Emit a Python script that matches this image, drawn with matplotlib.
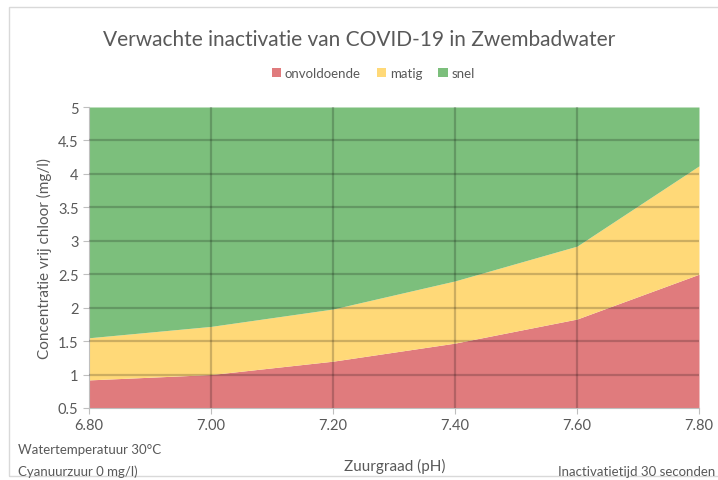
import numpy as np
import matplotlib.pyplot as plt
from matplotlib.patches import Rectangle

# pH values and boundaries between zones (mg/l free chlorine)
ph = [6.8, 7.0, 7.2, 7.4, 7.6, 7.8]
onvoldoende_top = [0.92, 1.00, 1.20, 1.47, 1.83, 2.50]
matig_top = [1.55, 1.72, 1.98, 2.40, 2.92, 4.12]
y_max = 5.0

labels = ['onvoldoende', 'matig', 'snel']
colors = ['#E07B7D', '#FFD978', '#7CBF7C']
xticks = [6.8, 7.0, 7.2, 7.4, 7.6, 7.8]
yticks = [0.5, 1, 1.5, 2, 2.5, 3, 3.5, 4, 4.5, 5]

plt.rcParams['font.family'] = ['Lato', 'DejaVu Sans']
txt = '#595959'

fig = plt.figure(figsize=(7.18, 4.81), dpi=100)
ax = fig.add_axes([89/718, 1 - 409/481, 610/718, 301/481])

base = np.full(len(ph), 0.5)
ax.fill_between(ph, base, onvoldoende_top, color=colors[0], lw=0, label=labels[0])
ax.fill_between(ph, onvoldoende_top, matig_top, color=colors[1], lw=0, label=labels[1])
ax.fill_between(ph, matig_top, np.full(len(ph), y_max), color=colors[2], lw=0, label=labels[2])

for t in yticks[1:-1]:
    ax.axhline(t, color='black', alpha=0.2, lw=1.6, zorder=3)
for t in xticks[1:-1]:
    ax.axvline(t, color='black', alpha=0.2, lw=1.6, zorder=3)

ax.set_xlim(6.8, 7.8)
ax.set_ylim(0.5, 5)
ax.set_xticks(xticks)
ax.set_xticklabels(['%.2f' % v for v in xticks])
ax.set_yticks(yticks)
ax.set_yticklabels(['%g' % v for v in yticks])
ax.tick_params(colors='#BFBFBF', labelcolor=txt, labelsize=10.5, length=4)
for s in ['top', 'right']:
    ax.spines[s].set_visible(False)
for s in ['left', 'bottom']:
    ax.spines[s].set_color('#BFBFBF')

ax.set_ylabel('Concentratie vrij chloor (mg/l)', color=txt, fontsize=11, labelpad=4)

fig.text(0.5, 1 - 40/481, 'Verwachte inactivatie van COVID-19 in Zwembadwater',
         ha='center', va='center', fontsize=15, color=txt)
fig.legend(loc='center', bbox_to_anchor=(0.52, 1 - 74/481), ncol=3, frameon=False,
           fontsize=9.5, labelcolor=txt, handlelength=0.7, handleheight=0.7,
           handletextpad=0.3, columnspacing=1.2)

fig.text(395/718, 1 - 466/481, 'Zuurgraad (pH)', ha='center', va='center',
         fontsize=11, color=txt)
fig.text(18/718, 1 - 450/481, 'Watertemperatuur 30°C', ha='left', va='center',
         fontsize=9.5, color=txt)
fig.text(18/718, 1 - 472/481, 'Cyanuurzuur 0 mg/l)', ha='left', va='center',
         fontsize=9.5, color=txt)
fig.text(558/718, 1 - 472/481, 'Inactivatietijd 30 seconden', ha='left', va='center',
         fontsize=9.5, color=txt)

fig.patches.append(Rectangle((9/718, 4/481), 1.0, 1 - 12/481, transform=fig.transFigure,
                             fill=False, edgecolor='#D9D9D9', lw=1))

fig.savefig('out.png', dpi=100)
